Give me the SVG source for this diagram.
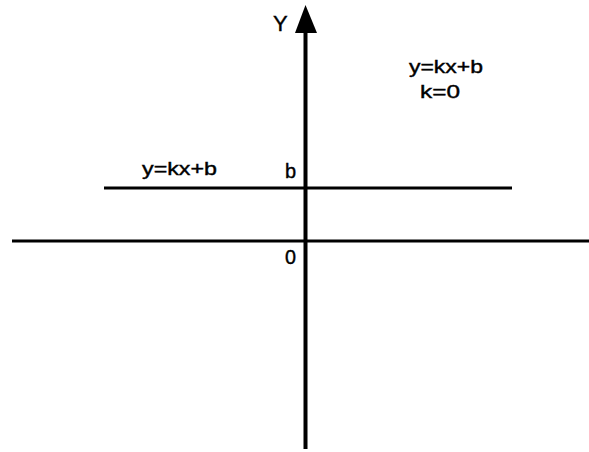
<svg xmlns="http://www.w3.org/2000/svg" width="589" height="452" viewBox="0 0 589 452">
<style>
.ln{stroke:#000;stroke-width:3;fill:none}
.ax{stroke:#000;stroke-width:4;fill:none}
.t{font-family:"Liberation Sans",Arial,sans-serif;fill:#000;stroke:#000;stroke-width:0.4}
</style>
<rect width="589" height="452" fill="#fff"/>
<g id="connectors">
<line id="x-axis" class="ln" x1="12" y1="241" x2="589" y2="241"/>
<line id="y-axis" class="ax" x1="305.5" y1="449" x2="305.5" y2="33"/>
<path id="y-arrowhead" d="M305.5,5 L317,33 L295,33 Z" fill="#000"/>
<line id="line-kb" class="ln" x1="104" y1="188" x2="512" y2="188"/>
</g>
<g id="label-Y"><text class="t" x="273" y="31" font-size="22">Y</text></g>
<g id="label-eq-right">
<text class="t" x="409" y="73" font-size="18" textLength="74" lengthAdjust="spacingAndGlyphs">y=kx+b</text>
<text class="t" x="420" y="98" font-size="18" textLength="40" lengthAdjust="spacingAndGlyphs">k=0</text>
</g>
<g id="label-eq-left"><text class="t" x="142" y="175" font-size="18" textLength="75" lengthAdjust="spacingAndGlyphs">y=kx+b</text></g>
<g id="label-b"><text class="t" x="285" y="178" font-size="20">b</text></g>
<g id="label-0"><text class="t" x="285" y="264" font-size="20" textLength="11" lengthAdjust="spacingAndGlyphs">0</text></g>
</svg>
